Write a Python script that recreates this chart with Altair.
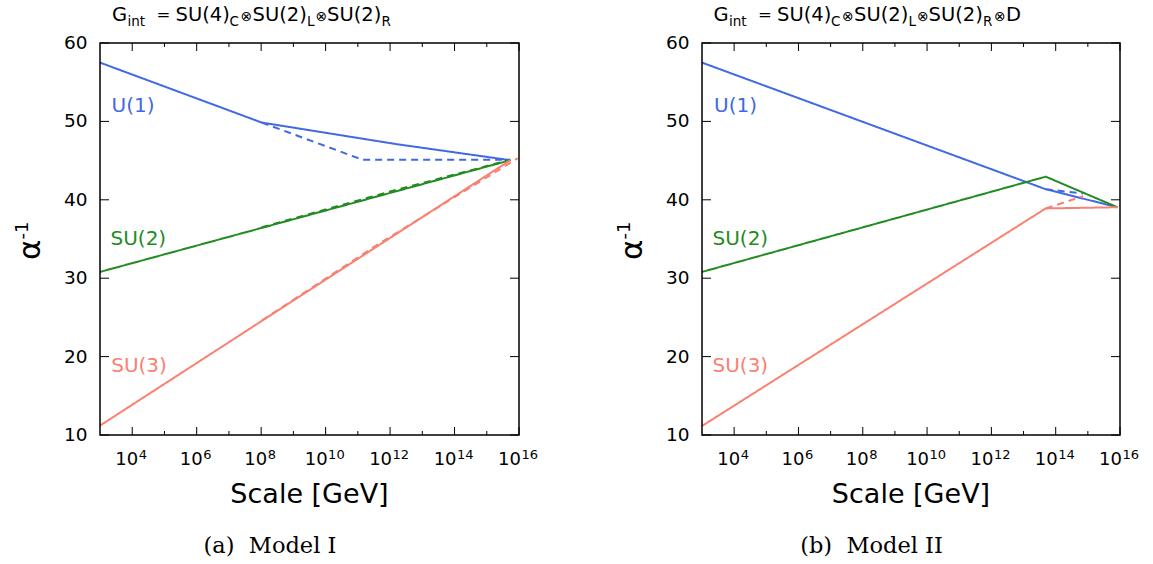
import altair as alt
import pandas as pd

# ------------------------------------------------------------------
# Data (x = log10(scale / GeV), y = inverse gauge coupling)
# ------------------------------------------------------------------
series_names = ["U(1)", "SU(2)", "SU(3)"]
series_colors = ["#4169e1", "#228b22", "#fa8072"]

# Model I
m1_u1_solid_x = [3.0, 8.02, 12.2, 15.73]
m1_u1_solid_y = [57.5, 49.85, 47.1, 45.05]
m1_u1_dash_x = [8.02, 11.15, 15.73]
m1_u1_dash_y = [49.85, 45.1, 45.1]
m1_su2_solid_x = [3.0, 8.02, 15.73]
m1_su2_solid_y = [30.8, 36.42, 45.05]
m1_su2_dash_x = [8.02, 12.0, 15.73]
m1_su2_dash_y = [36.5, 41.05, 45.1]
m1_su3_solid_x = [3.0, 8.02, 15.73]
m1_su3_solid_y = [11.2, 24.55, 45.05]
m1_su3_dash_x = [8.02, 11.5, 15.96]
m1_su3_dash_y = [24.6, 34.0, 45.3]

# Model II
m2_u1_solid_x = [3.0, 13.69, 15.92]
m2_u1_solid_y = [57.5, 41.35, 39.05]
m2_u1_dash_x = [13.69, 14.85]
m2_u1_dash_y = [41.35, 40.8]
m2_su2_solid_x = [3.0, 13.69, 15.92]
m2_su2_solid_y = [30.8, 42.95, 39.05]
m2_su3_solid_x = [3.0, 13.69, 15.92]
m2_su3_solid_y = [11.15, 38.9, 39.05]
m2_su3_dash_x = [13.69, 14.85]
m2_su3_dash_y = [38.9, 40.45]

x_domain = [3, 16]
y_domain = [10, 60]
x_major = [4, 6, 8, 10, 12, 14, 16]
x_minor = [5, 7, 9, 11, 13, 15]
x_tick_base = "10"
x_tick_exponents = ["4", "6", "8", "10", "12", "14", "16"]
y_major = [10, 20, 30, 40, 50, 60]
y_tick_labels = ["10", "20", "30", "40", "50", "60"]

x_title = "Scale [GeV]"
y_title_main = "α"
y_title_sup = "-1"
title1_pieces = ["G", "int", "=", "SU(4)", "C", "⊗", "SU(2)", "L", "⊗", "SU(2)", "R"]
title2_pieces = title1_pieces + ["⊗", "D"]
captions = ["(a)\u00a0 Model I", "(b)\u00a0 Model II"]


def table(parts):
    rows = []
    for name, style, xs, ys in parts:
        for xv, yv in zip(xs, ys):
            rows.append({"series": name, "style": style, "lg": xv, "alpha": yv})
    return pd.DataFrame(rows)


df1 = table([
    ("U(1)", "solid", m1_u1_solid_x, m1_u1_solid_y),
    ("U(1)", "dashed", m1_u1_dash_x, m1_u1_dash_y),
    ("SU(2)", "solid", m1_su2_solid_x, m1_su2_solid_y),
    ("SU(2)", "dashed", m1_su2_dash_x, m1_su2_dash_y),
    ("SU(3)", "solid", m1_su3_solid_x, m1_su3_solid_y),
    ("SU(3)", "dashed", m1_su3_dash_x, m1_su3_dash_y),
])
df2 = table([
    ("U(1)", "solid", m2_u1_solid_x, m2_u1_solid_y),
    ("U(1)", "dashed", m2_u1_dash_x, m2_u1_dash_y),
    ("SU(2)", "solid", m2_su2_solid_x, m2_su2_solid_y),
    ("SU(3)", "solid", m2_su3_solid_x, m2_su3_solid_y),
    ("SU(3)", "dashed", m2_su3_dash_x, m2_su3_dash_y),
])

ticks_df = pd.DataFrame({"t": x_major, "base": [x_tick_base] * len(x_major), "exp": x_tick_exponents})
ticks_df["digits"] = ticks_df["exp"].str.len()

# ------------------------------------------------------------------
# Layout / style constants
# ------------------------------------------------------------------
W, H = 1153, 564
Y_TOP, Y_BOT = 43, 435
SANS = "DejaVu Sans"
SERIF = "DejaVu Serif"
ONE = pd.DataFrame({"k": [0]})

title_roles = ["main", "sub", "eq", "main", "sub", "op", "main", "sub", "op", "main", "sub", "op", "main"]
title_offsets = [0, 15.5, 44.5, 63.5, 117.5, 128.5, 140.5, 195, 203.5, 215, 269.5, 280.5, 292.5]
role_style = {"main": (19.5, 21), "sub": (13.5, 25.5), "op": (14, 20.5), "eq": (16.5, 20)}


def txt(x, y, s, size, color="black", font=SANS, align="left", baseline="alphabetic", angle=0):
    return alt.Chart(ONE).mark_text(
        align=align, baseline=baseline, font=font, fontSize=size, color=color, angle=angle
    ).encode(x=alt.value(x), y=alt.value(y), text=alt.value(s))


def panel(df, x0, x1, g0, pieces, caption, cap_x, label_pos):
    xs = alt.Scale(domain=x_domain, range=[x0, x1], nice=False, zero=False)
    ys = alt.Scale(domain=y_domain, range=[Y_BOT, Y_TOP], nice=False, zero=False)
    lines = alt.Chart(df).mark_line(strokeWidth=2, strokeCap="butt").encode(
        x=alt.X("lg:Q", scale=xs, axis=None),
        y=alt.Y("alpha:Q", scale=ys, axis=None),
        color=alt.Color("series:N", scale=alt.Scale(domain=series_names, range=series_colors), legend=None),
        strokeDash=alt.StrokeDash("style:N", scale=alt.Scale(domain=["solid", "dashed"], range=[[1, 0], [7, 5]]), legend=None),
    )
    frame = alt.Chart(ONE).mark_rect(fillOpacity=0, stroke="black", strokeWidth=1.5).encode(
        x=alt.X(datum=x_domain[0], scale=xs, axis=None), x2=alt.X2(datum=x_domain[1]),
        y=alt.Y(datum=y_domain[0], scale=ys, axis=None), y2=alt.Y2(datum=y_domain[1]),
    )

    def xt(vals, ya, yb):
        return alt.Chart(pd.DataFrame({"t": vals})).mark_rule(color="black", strokeWidth=1).encode(
            x=alt.X("t:Q", scale=xs, axis=None), y=alt.value(ya), y2=alt.value(yb))

    def yt(vals, xa, xb):
        return alt.Chart(pd.DataFrame({"t": vals})).mark_rule(color="black", strokeWidth=1).encode(
            y=alt.Y("t:Q", scale=ys, axis=None), x=alt.value(xa), x2=alt.value(xb))

    ticks = [
        xt(x_major, Y_BOT, Y_BOT - 8), xt(x_minor, Y_BOT, Y_BOT - 4),
        xt(x_major, Y_TOP, Y_TOP + 8), xt(x_minor, Y_TOP, Y_TOP + 4),
        yt(y_major, x0, x0 + 9), yt(y_major, x1, x1 - 9),
    ]

    # tick labels "10" + raised exponent
    xlabs = []
    for nd, shift in [(1, 6), (2, 2)]:
        sub = ticks_df[ticks_df["digits"] == nd]
        base = alt.Chart(sub).mark_text(
            align="right", baseline="alphabetic", font=SANS, fontSize=18, color="black", dx=shift
        ).encode(x=alt.X("t:Q", scale=xs, axis=None), y=alt.value(Y_BOT + 30), text="base:N")
        expo = alt.Chart(sub).mark_text(
            align="left", baseline="alphabetic", font=SANS, fontSize=13, color="black", dx=shift + 0.5
        ).encode(x=alt.X("t:Q", scale=xs, axis=None), y=alt.value(Y_BOT + 24), text="exp:N")
        xlabs += [base, expo]
    ylab = alt.Chart(pd.DataFrame({"t": y_major, "lab": y_tick_labels})).mark_text(
        align="right", baseline="middle", font=SANS, fontSize=18.5, color="black"
    ).encode(y=alt.Y("t:Q", scale=ys, axis=None), x=alt.value(x0 - 12.5), text="lab:N")
    xtitle = txt((x0 + x1) / 2, 503, x_title, 27, align="center")
    ymid = (Y_TOP + Y_BOT) / 2
    ytitle = [
        txt(x0 - 60, ymid + 21, y_title_main, 31, align="left", angle=270),
        txt(x0 - 72, ymid + 0.5, y_title_sup, 18, align="left", angle=270),
    ]

    labels = [
        txt(lx, ly, name, 20, color=col)
        for name, col, (lx, ly) in zip(series_names, series_colors, label_pos)
    ]
    title = []
    for piece, role, off in zip(pieces, title_roles, title_offsets):
        size, yb = role_style[role]
        title.append(txt(g0 + off, yb, piece, size))
    cap = [txt(cap_x, 553, caption, 22.5, font=SERIF, align="center")]
    return alt.layer(lines, frame, *ticks, *xlabs, ylab, xtitle, *ytitle, *labels, *title, *cap)


left = panel(df1, 100, 519, 112, title1_pieces, captions[0], 270,
             [(111.5, 111.5), (110.5, 245), (111.2, 371.5)])
right = panel(df2, 702, 1120, 713.5, title2_pieces, captions[1], 871.5,
              [(714, 111.5), (712.5, 245), (712.5, 371.5)])

chart = (
    alt.layer(left, right)
    .resolve_scale(x="independent", y="independent")
    .properties(width=W, height=H, autosize=alt.AutoSizeParams(type="none"), padding=0,
                background="white")
    .configure_view(stroke=None)
)

chart.save("out.html", embed_options={"renderer": "svg", "actions": False})
